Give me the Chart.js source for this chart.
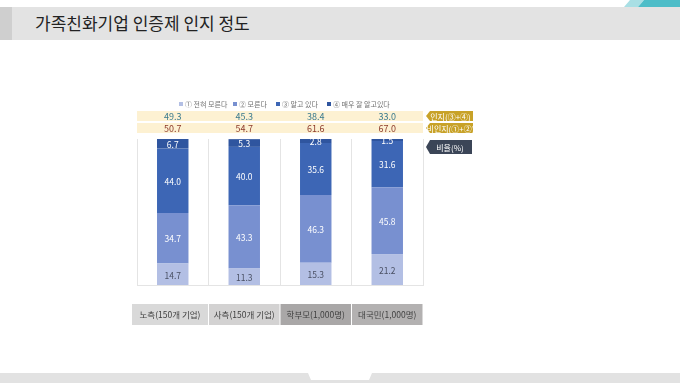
<!DOCTYPE html>
<html>
<head>
<meta charset="utf-8">
<script src="https://cdn.jsdelivr.net/npm/chart.js@4"></script>
<style>
  html, body { margin: 0; padding: 0; background: #fff; }
  body { width: 680px; height: 383px; position: relative; overflow: hidden; font-family: "Noto Sans CJK KR", "Noto Sans", sans-serif; }
  #title { position: absolute; left: 0; top: 7px; width: 680px; height: 33px; background: #e3e3e3; }
  #title .strip { position: absolute; left: 0; top: 0; width: 12px; height: 33px; background: #cfcfcf; }
  #title span { position: absolute; left: 35px; top: 5px; font-size: 17px; color: #222; line-height: 22px; }
  #wrap { position: absolute; left: 0; top: 0; width: 680px; height: 383px; }
</style>
</head>
<body>
<div id="title"><div class="strip"></div><span>가족친화기업 인증제 인지 정도</span></div>
<div id="wrap"><canvas id="myChart" width="680" height="383"></canvas></div>
<script>
// categories and series (percent)
const categories = ['노측(150개 기업)', '사측(150개 기업)', '학부모(1,000명)', '대국민(1,000명)'];
const seriesNames = ['① 전혀 모른다', '② 모른다', '③ 알고 있다', '④ 매우 잘 알고있다'];
const notAtAll = [14.7, 11.3, 15.3, 21.2];
const dontKnow = [34.7, 43.3, 46.3, 45.8];
const know = [44.0, 40.0, 35.6, 31.6];
const knowWell = [6.7, 5.3, 2.8, 1.5];
// summary rows, as printed above the bars
const row1Values = [49.3, 45.3, 38.4, 33.0];
const row2Values = [50.7, 54.7, 61.6, 67.0];
const rowTags = ['인지(③+④)', '비인지(①+②)'];

const colors = ['#b3bfe4', '#7890d0', '#3d66b5', '#2f559f'];
const boxColors = ['#d9d9d9', '#d3d2d2', '#a9a7a7', '#b3b1b1'];
const FONT = '"Noto Sans CJK KR", "Noto Sans", sans-serif';

// background pieces + extra annotations
const decor = {
  id: 'decor',
  beforeDraw(chart) {
    const c = chart.ctx;
    c.save();
    // top-right teal
    c.fillStyle = '#a9dfe4';
    c.beginPath(); c.moveTo(630, 0); c.lineTo(644, 0); c.lineTo(638, 7); c.lineTo(624, 7); c.fill();
    c.fillStyle = '#4dbdc8';
    c.beginPath(); c.moveTo(644, 0); c.lineTo(680, 0); c.lineTo(680, 7); c.lineTo(638, 7); c.fill();
    // bottom band with notch
    c.fillStyle = '#e2e2e2';
    c.beginPath();
    c.moveTo(0, 373); c.lineTo(308, 373); c.lineTo(311, 380); c.lineTo(369, 380); c.lineTo(372, 373);
    c.lineTo(680, 373); c.lineTo(680, 383); c.lineTo(0, 383); c.fill();
    c.restore();
  },
  afterDatasetsDraw(chart) {
    const c = chart.ctx;
    const x = chart.scales.x;
    const area = chart.chartArea;
    c.save();
    // value labels inside segments
    c.beginPath(); c.rect(area.left, area.top, area.right - area.left, area.bottom - area.top); c.clip();
    c.font = '8.5px ' + FONT;
    c.textAlign = 'center'; c.textBaseline = 'middle';
    chart.data.datasets.forEach((ds, di) => {
      chart.getDatasetMeta(di).data.forEach((bar, i) => {
        c.fillStyle = di === 0 ? '#4a5064' : '#ffffff';
        c.fillText(ds.data[i].toFixed(1), bar.x, (bar.y + bar.base) / 2 + 1);
      });
    });
    c.restore();

    c.save();
    // legend
    c.font = '7px ' + FONT;
    c.textBaseline = 'middle'; c.textAlign = 'left';
    const legX = [179, 233, 276, 327];
    seriesNames.forEach((n, i) => {
      c.fillStyle = colors[i];
      c.fillRect(legX[i], 102, 4, 4);
      c.fillStyle = '#707070';
      c.fillText(n, legX[i] + 6, 104.5);
    });
    // summary rows
    c.fillStyle = '#fdf1d2';
    c.fillRect(area.left, 111, area.right - area.left, 10);
    c.fillRect(area.left, 123, area.right - area.left, 10);
    c.font = '9px ' + FONT;
    c.textAlign = 'center';
    categories.forEach((cat, i) => {
      const cx = x.getPixelForValue(i);
      c.fillStyle = '#3a7a8d';
      c.fillText(row1Values[i].toFixed(1), cx, 116.5);
      c.fillStyle = '#8c3a2a';
      c.fillText(row2Values[i].toFixed(1), cx, 128.5);
    });
    // tags on the right
    const tag = (y, h, w, fill, text, size) => {
      c.fillStyle = fill;
      c.beginPath();
      c.moveTo(426, y + h / 2); c.lineTo(430, y); c.lineTo(426 + w, y); c.lineTo(426 + w, y + h);
      c.lineTo(430, y + h); c.closePath(); c.fill();
      c.fillStyle = '#ffffff';
      c.font = size + 'px ' + FONT;
      c.fillText(text, 426 + w / 2 + 1, y + h / 2 + 0.5);
    };
    tag(111, 10, 47, '#c8a228', rowTags[0], 8);
    tag(123, 10, 47, '#c8a228', rowTags[1], 8);
    tag(140, 14, 46, '#3b4557', '비율(%)', 8);
    // category boxes
    c.font = '8.5px ' + FONT;
    categories.forEach((cat, i) => {
      const half = (x.getPixelForValue(1) - x.getPixelForValue(0)) / 2;
      const cx = x.getPixelForValue(i);
      const l = i === 0 ? 132 : cx - half + 0.5;
      const r = cx + half - 0.5;
      c.fillStyle = boxColors[i];
      c.fillRect(l, 304, r - l, 21);
      c.fillStyle = '#404040';
      c.fillText(cat, (l + r) / 2, 315);
    });
    c.restore();
  }
};

const ctx = document.getElementById('myChart').getContext('2d');
const myChart = new Chart(ctx, {
  type: 'bar',
  data: {
    labels: categories,
    datasets: [notAtAll, dontKnow, know, knowWell].map((d, i) => ({
      label: seriesNames[i],
      data: d,
      backgroundColor: colors[i],
      borderWidth: 0,
      barPercentage: 0.44,
      categoryPercentage: 1
    }))
  },
  options: {
    responsive: false,
    animation: false,
    layout: { padding: { left: 137, right: 257, top: 139, bottom: 98 } },
    plugins: { legend: { display: false }, tooltip: { enabled: false } },
    scales: {
      x: {
        stacked: true,
        ticks: { display: false },
        grid: { color: '#e4e4e4', drawTicks: false },
        border: { color: '#e4e4e4' }
      },
      y: {
        stacked: true,
        display: false,
        min: 0,
        max: 100
      }
    }
  },
  plugins: [decor]
});
</script>
</body>
</html>
